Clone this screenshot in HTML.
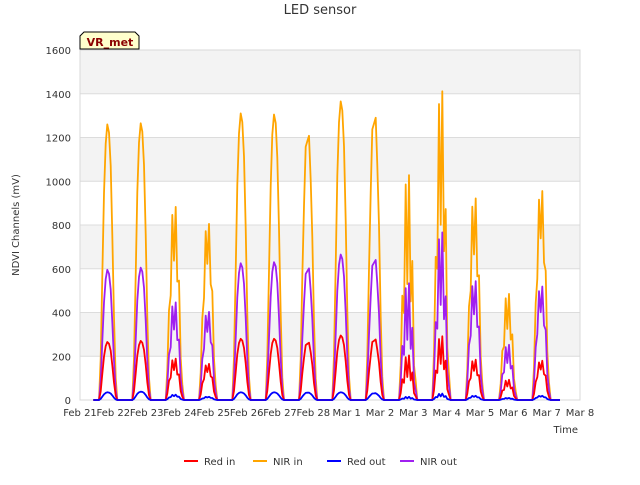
<!DOCTYPE html>
<html><head><meta charset="utf-8"><style>
body{margin:0;background:#fff;font-family:"Liberation Sans","DejaVu Sans",sans-serif;}
svg text{font-family:"DejaVu Sans","Liberation Sans",sans-serif;}
</style></head><body>
<svg id="chart" width="640" height="480" viewBox="0 0 640 480" xmlns="http://www.w3.org/2000/svg">
<text x="320" y="14" text-anchor="middle" font-size="13" fill="#333">LED sensor</text>
<g id="bands"></g>
<g id="grid"></g>
<g id="yticks"></g>
<g id="xticks"></g>
<g id="series"></g>
<text transform="translate(19,225) rotate(-90)" text-anchor="middle" font-size="10" fill="#333">NDVI Channels (mV)</text>
<text x="578" y="433" text-anchor="end" font-size="10" fill="#333">Time</text>
<g>
<path d="M80,49 L80,36 L84,32 L135,32 L139,36 L139,49 Z" fill="#ffffcc" stroke="#000" stroke-width="1"/>
<text x="110" y="46" text-anchor="middle" font-size="11" font-weight="bold" fill="#8b0000">VR_met</text>
</g>
<g id="legend"></g>
</svg>
<script>
const dayLabels=["Feb 21","Feb 22","Feb 23","Feb 24","Feb 25","Feb 26","Feb 27","Feb 28","Mar 1","Mar 2","Mar 3","Mar 4","Mar 5","Mar 6","Mar 7","Mar 8"];
const yTicks=[0,200,400,600,800,1000,1200,1400,1600];
const nirIn=[1260,1265,910,830,1310,1305,1245,1365,1330,1060,1455,950,500,985];
const nirOut=[595,605,460,415,625,630,620,665,660,550,790,560,260,535];
const redIn=[265,270,195,170,280,280,270,295,285,210,300,190,95,185];
const redOut=[35,38,25,15,35,35,35,35,32,15,30,20,10,20];
const profile=[0,0.15,0.45,0.75,0.93,1,0.97,0.85,0.6,0.3,0.08,0];
const jitter=[0,0,0.3,0.25,0,0,0.05,0,0.05,0.5,0.45,0.3,0.35,0.25];
const X0=80,X1=580,Y0=400,Y1=50;
const xs=d=>X0+(X1-X0)*d/15;
const ys=v=>Y0-(Y0-Y1)*v/1600;
const NS="http://www.w3.org/2000/svg";
function mk(t,p,a){const e=document.createElementNS(NS,t);for(const k in a)e.setAttribute(k,a[k]);p.appendChild(e);return e;}
const bands=document.getElementById('bands');
for(let i=0;i<8;i++){if(i%2==0)continue;
 const r=mk('rect',bands,{x:X0,y:ys(yTicks[i+1]),width:X1-X0,height:ys(yTicks[i])-ys(yTicks[i+1]),fill:'#f3f3f3'});
 
 }
const grid=document.getElementById('grid'),yt=document.getElementById('yticks');
yTicks.forEach(v=>{const l=mk('line',grid,{x1:X0,x2:X1,y1:ys(v),y2:ys(v),stroke:'#dcdcdc','stroke-width':1});
 
 
 const t=mk('text',yt,{x:71,y:ys(v)+4,'text-anchor':'end','font-size':10,fill:'#333'});t.textContent=v;
 
 });
mk('rect',grid,{x:X0,y:Y1,width:X1-X0,height:Y0-Y1,fill:'none',stroke:'#d8d8d8'});
const xt=document.getElementById('xticks');
dayLabels.forEach((s,i)=>{const t=mk('text',xt,{x:xs(i),y:416,'text-anchor':'middle','font-size':10,fill:'#333'});t.textContent=s;
 
 });
const series=[["NIR in",nirIn,"#ffa500"],["NIR out",nirOut,"#a020f0"],["Red in",redIn,"#ff0000"],["Red out",redOut,"#0000ff"]];
const sg=document.getElementById('series');
series.forEach(([name,arr,col])=>{
 let pts=[[xs(0.4),ys(0)]];
 arr.forEach((pk,d)=>{
  const start=d+0.57,end=d+1.12;
  pts.push([xs(d+0.5),ys(0)]);
  profile.forEach((p,k)=>{
   const tt=start+(end-start)*k/(profile.length-1);
   let f=p; if(k%2==1&&k>1&&k<10) f=p*(1-jitter[d]);
   pts.push([xs(tt),ys(pk*f)]);
  });
  pts.push([xs(d+1.3),ys(0)]);
 });
 pts.push([xs(14.4),ys(0)]);
 const pl=mk('polyline',sg,{points:pts.map(p=>p[0].toFixed(1)+','+p[1].toFixed(1)).join(' '),fill:'none',stroke:col,'stroke-width':1.8,'stroke-linejoin':'round'});
 
 
});
const lg=document.getElementById('legend');
const legendItems=[["Red in","#ff0000",184],["NIR in","#ffa500",253],["Red out","#0000ff",327],["NIR out","#a020f0",400]];
legendItems.forEach(([n,c,x])=>{
 const g=mk('g',lg,{});
 
 
 mk('line',g,{x1:x,x2:x+14,y1:461,y2:461,stroke:c,'stroke-width':2});
 const t=mk('text',g,{x:x+20,y:465,'font-size':10,fill:'#333'});t.textContent=n;
});
</script>
</body></html>
